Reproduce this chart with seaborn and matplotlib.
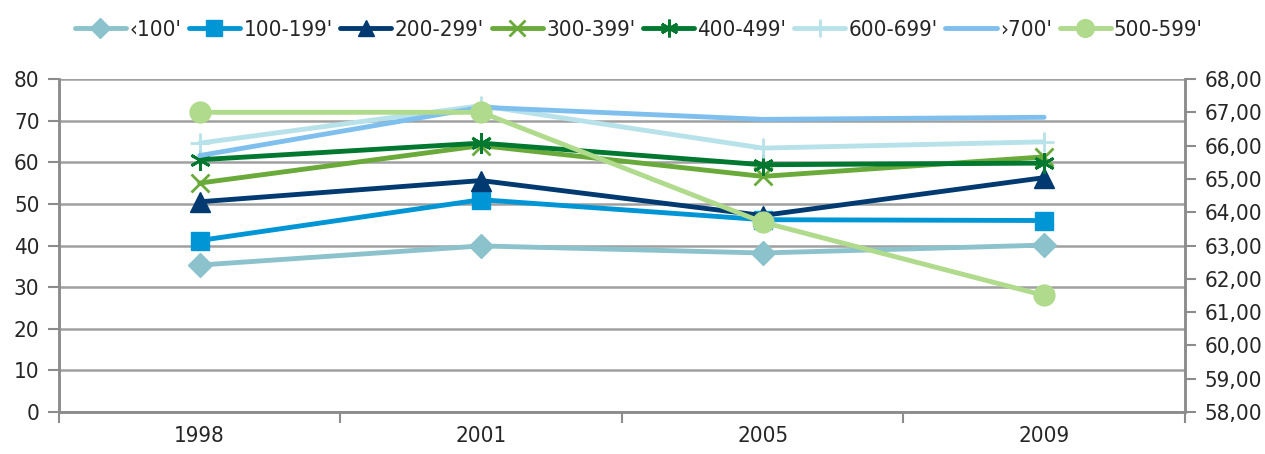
import matplotlib
matplotlib.use("Agg")
import matplotlib.pyplot as plt
from matplotlib.lines import Line2D
from matplotlib import font_manager
import seaborn as sns
import pandas as pd

years = ["1998", "2001", "2005", "2009"]

lt100 = [35.3, 39.9, 38.2, 40.1]
s100_199 = [41.2, 51.0, 46.2, 46.0]
s200_299 = [50.5, 55.6, 47.2, 56.3]
s300_399 = [55.0, 64.0, 56.6, 61.3]
s400_499 = [60.6, 64.6, 59.4, 59.8]
s600_699 = [64.6, 73.6, 63.4, 64.9]
gt700 = [61.6, 73.2, 70.3, 70.8]
s500_599 = [67.0, 67.0, 63.7, 61.5]  # right axis

labels = ["\u2039100'", "100-199'", "200-299'", "300-399'", "400-499'",
          "600-699'", "\u203a700'", "500-599'"]

sns.set_theme(style="white")
names = {f.name for f in font_manager.fontManager.ttflist}
fam = "Liberation Sans Narrow" if "Liberation Sans Narrow" in names else "DejaVu Sans"
plt.rcParams["font.family"] = [fam, "DejaVu Sans"]
plt.rcParams["font.stretch"] = "condensed"

fig = plt.figure(figsize=(12.65, 4.54), dpi=100)
ax = fig.add_axes([0.0466, 0.0925, 0.89, 0.7335])
ax2 = ax.twinx()

xpos = list(range(len(years)))
grey = "#8c8c8c"

styles = [
    (lt100, "#8cc2cb", "D", 12, 1.0, ax),
    (s100_199, "#0096d6", "s", 13, 1.0, ax),
    (s200_299, "#003a70", "^", 14, 1.0, ax),
    (s300_399, "#6aaa3a", "x", 13, 2.0, ax),
    (s400_499, "#00782f", (6, 2, 0), 15, 2.0, ax),
    (s600_699, "#b8e2e9", "+", 15, 2.0, ax),
    (gt700, "#7fbfee", None, 0, 1.0, ax),
    (s500_599, "#b0da8c", "o", 15, 1.0, ax2),
]

handles = []
for (vals, col, mk, ms, mew, target), lab in zip(styles, labels):
    df = pd.DataFrame({"x": xpos, "y": vals})
    sns.lineplot(data=df, x="x", y="y", ax=target, color=col, linewidth=3.5,
                 marker=mk if mk is not None else None, markersize=ms,
                 markeredgewidth=mew, markeredgecolor=col, markerfacecolor=col,
                 legend=False)
    handles.append(Line2D([], [], color=col, linewidth=3.5, marker=mk,
                          markersize=ms * 0.85, markeredgewidth=mew,
                          markeredgecolor=col, markerfacecolor=col, label=lab))

ax.set_xlim(-0.5, 3.5)
ax.set_ylim(0, 80)
ax.set_yticks(range(0, 81, 10))
ax2.set_ylim(58, 68)
ax2.set_yticks(range(58, 69))
ax2.set_yticklabels([f"{v},00" for v in range(58, 69)])

ax.set_xticks(xpos)
ax.set_xticklabels(years)
ax.set_xticks([-0.5, 0.5, 1.5, 2.5, 3.5], minor=True)
ax.tick_params(axis="x", which="major", length=0, pad=10, labelsize=16)
ax.tick_params(axis="x", which="minor", length=8, width=1.5, color=grey,
               direction="out", bottom=True)
ax.tick_params(axis="y", length=8, width=1.5, color=grey, direction="out",
               left=True, labelsize=16, pad=6)
ax2.tick_params(axis="y", length=8, width=1.5, color=grey, direction="out",
                right=True, labelsize=16, pad=6)
ax.set_xlabel("")
ax.set_ylabel("")
ax2.set_ylabel("")

ax.yaxis.grid(True, color="#a0a0a0", linewidth=1.8)
ax.set_axisbelow(True)

for a in (ax, ax2):
    a.spines["top"].set_visible(False)
    for s in ("left", "right", "bottom"):
        a.spines[s].set_color(grey)
        a.spines[s].set_linewidth(1.8)

fig.legend(handles=handles, loc="upper center", bbox_to_anchor=(0.505, 1.0),
           ncol=8, frameon=False, fontsize=16, handlelength=2.3,
           handletextpad=0.15, columnspacing=0.35)

fig.savefig("out.png", dpi=100)
